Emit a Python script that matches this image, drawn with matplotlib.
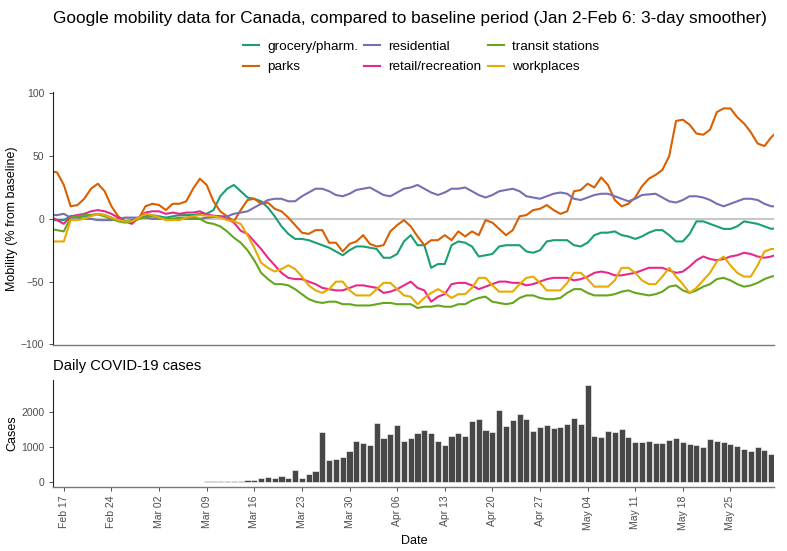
import numpy as np
import pandas as pd
import matplotlib
matplotlib.use("Agg")
import matplotlib.pyplot as plt
import matplotlib.dates as mdates

plt.rcParams['font.family'] = ['Liberation Sans', 'DejaVu Sans']

# mobility (% change from baseline), daily from Feb 15 to Jun 1 2020
mob_dates = pd.date_range("2020-02-15", periods=108, freq="D")

grocery = [-1, -1, -1, 2, 2, 2, 3, 4, 3, 1, -1, -2, -1, 1, 2, 3, 2, 1, 2, 3, 3, 3, 4,
           4, 7, 18, 24, 27, 22, 17, 16, 14, 9, 2, -6, -12, -16, -16, -17, -19, -21, -23, -26, -29,
           -25, -22, -22, -23, -24, -31, -31, -28, -18, -13, -21, -21, -39, -36, -36, -21, -18, -19, -22, -30, -29,
           -28, -22, -21, -21, -21, -26, -27, -25, -18, -17, -17, -17, -21, -22, -19, -13, -11, -11, -10, -13, -14, -16,
           -14, -11, -9, -9, -13, -18, -18, -12, -2, -2, -4, -6, -8, -8, -6, -2, -3, -4, -6, -8, -7]
parks = [38, 37, 27, 10, 11, 16, 24, 28, 22, 10, 2, -2, -3, 0, 10, 12, 11, 7, 12, 12, 14, 24, 32,
         27, 14, 6, 2, -2, 7, 15, 16, 12, 13, 8, 6, 1, -5, -11, -12, -9, -9, -19, -19, -26,
         -20, -18, -13, -20, -22, -21, -10, -5, -1, -6, -14, -21, -17, -17, -13, -17, -10, -14, -10, -13, -1,
         -3, -8, -13, -9, 2, 3, 7, 8, 11, 7, 4, 6, 22, 23, 28, 25, 33, 27, 15, 10, 12, 17,
         26, 32, 35, 39, 50, 78, 79, 75, 68, 67, 71, 85, 88, 88, 81, 76, 69, 60, 58, 65, 70]
residential = [3, 3, 4, 1, 1, 0, 0, -1, -1, -1, 0, 1, 1, 1, 1, 0, 0, 0, 0, 0, 0, 0, 0,
               1, 1.5, 2, 2, 4, 5, 6, 9, 12, 15, 16, 16, 14, 14, 18, 21, 24, 24, 22, 19, 18,
               20, 23, 24, 25, 22, 19, 18, 21, 24, 25, 27, 24, 21, 19, 21, 24, 24, 25, 22, 19, 17,
               19, 22, 23, 24, 22, 18, 17, 16, 18, 20, 21, 20, 16, 15, 17, 19, 20, 20, 18, 16, 14, 16,
               19, 19.5, 20, 17, 14, 13, 15, 18, 18, 17, 15, 12, 10, 12, 14, 16, 16, 15, 12, 10, 10]
retail = [2, -1, -4, 2, 3, 4, 6, 7, 6, 4, 1, -2, -4, 1, 5, 6, 6, 4, 5, 4, 5, 5, 6,
          3.5, 2.5, 2, 0, -3, -9.5, -12, -18, -24, -31, -37, -43, -47, -48, -48, -50, -52, -55, -56, -57, -57,
          -55, -53, -53, -54, -55, -59, -58, -56, -53, -50, -55, -57, -66, -62, -60, -52, -51, -51, -53, -56, -54,
          -52, -50, -50, -51, -51, -53, -52, -50, -48, -47, -47, -47, -49, -48, -46, -43, -42, -43, -45, -45, -44, -43,
          -41, -39, -39, -39, -41, -43, -42, -38, -33, -30, -32, -33, -32, -30, -29, -27, -28, -30, -31, -30, -28]
transit = [-8, -9, -10, 1, 2, 3, 3, 3.5, 2, 0, -2, -3, -2, 0, 1, 2, 1, 0, 0, 1, 1, 1, 0,
           -3, -4, -6, -10, -15, -19, -25, -33, -43, -48, -52, -52, -53, -56, -60, -64, -66, -67, -66, -66, -68,
           -68, -69, -69, -69, -68, -67, -67, -68, -68, -68, -71, -70, -70, -69, -70, -70, -68, -68, -65, -63, -62,
           -66, -67, -68, -67, -63, -61, -61, -63, -64, -64, -63, -59, -56, -56, -59, -61, -61, -61, -60, -58, -57, -59,
           -60, -61, -60, -58, -54, -53, -57, -59, -57, -54, -52, -48, -47, -49, -52, -54, -53, -51, -48, -46, -45]
workplaces = [-18, -18, -18, -1, -1, 0, 2, 4, 3, 1, -1, -2, -2, 1, 4, 3, 1, -1, -1, -1, 1, 2, 3,
              2.5, 2, 1, -1, -2, -4, -13, -23, -35, -39, -42, -40, -37, -40, -46, -53, -57, -59, -56, -50, -50,
              -57, -61, -61, -61, -56, -51, -51, -56, -61, -62, -68, -63, -59, -56, -59, -63, -60, -60, -55, -47, -47,
              -53, -58, -58, -58, -52, -47, -46, -51, -57, -57, -57, -51, -43, -43, -48, -54, -54, -54, -49, -39, -39, -43,
              -49, -52, -52, -46, -39, -46, -52, -59, -55, -49, -43, -34, -30, -37, -43, -46, -46, -37, -26, -24, -24]

series_names = ["grocery/pharm.", "parks", "residential", "retail/recreation",
                "transit stations", "workplaces"]
series_vals = [grocery, parks, residential, retail, transit, workplaces]
colors = ["#1B9E77", "#D95F02", "#7570B3", "#E7298A", "#66A61E", "#E6AB02"]

# daily cases, Feb 16 to May 31
case_dates = pd.date_range("2020-02-16", "2020-05-31", freq="D")
cases = [0] * 19 + [5, 5, 8, 15, 20, 15, 25,
         38, 38, 56, 56,
         103, 141, 113, 160, 122, 329, 122, 216, 310, 1418, 629, 648, 714, 873, 1164, 1108, 1052,
         1671, 1249, 1362, 1615, 1164, 1240, 1380, 1474, 1390, 1164, 1061, 1296, 1380, 1315, 1718, 1793,
         1465, 1427, 2047, 1578, 1765, 1925, 1784, 1456, 1549, 1606, 1531, 1568, 1643, 1822, 1653, 2751,
         1296, 1268, 1437, 1418, 1512, 1277, 1146, 1127, 1174, 1117, 1117, 1202, 1249, 1136, 1070, 1042,
         986, 1221, 1164, 1136, 1080, 1014, 939, 873, 995, 911, 779]

W, H = 787, 551
fig = plt.figure(figsize=(W / 100, H / 100), dpi=100)

def box(x0, y0, x1, y1):
    return [x0 / W, 1 - y1 / H, (x1 - x0) / W, (y1 - y0) / H]

ax1 = fig.add_axes(box(53.3, 91.7, 774.3, 345))
ax2 = fig.add_axes(box(53.3, 380, 774.3, 486.7))

xmin = mdates.date2num(pd.Timestamp("2020-02-15") + pd.Timedelta(hours=10.8))
xmax = mdates.date2num(pd.Timestamp("2020-05-31") + pd.Timedelta(hours=10.8))

ax1.axhline(0, color="#c8c8c8", lw=1.5, zorder=1)
for name, vals, c in zip(series_names, series_vals, colors):
    ax1.plot(mob_dates, vals, color=c, lw=1.5, label=name, zorder=2)
ax1.set_xlim(xmin, xmax)
ax1.set_ylim(-100.5, 101.3)
ax1.set_yticks([-100, -50, 0, 50, 100])
ax1.tick_params(axis="x", bottom=False, labelbottom=False)
ax1.set_ylabel("Mobility (% from baseline)", fontsize=9)
ax1.yaxis.set_label_coords(-0.049, 0.5)

ax2.bar(case_dates, cases, width=0.9, color="#474747", edgecolor="white", linewidth=0.4)
ax2.set_xlim(xmin, xmax)
ax2.set_ylim(-138, 2898)
ax2.set_yticks([0, 1000, 2000])
ticks = pd.date_range("2020-02-17", "2020-05-25", freq="7D")
ax2.set_xticks(mdates.date2num(ticks))
ax2.xaxis.set_major_formatter(mdates.DateFormatter("%b %d"))
ax2.tick_params(axis="x", labelrotation=90)
ax2.set_ylabel("Cases", fontsize=9)
ax2.yaxis.set_label_coords(-0.049, 0.5)
ax2.set_xlabel("Date", fontsize=9)
ax2.xaxis.set_label_coords(0.5, -0.45)

for ax in (ax1, ax2):
    ax.spines["top"].set_visible(False)
    ax.spines["right"].set_visible(False)
    ax.spines["left"].set_color("#222222")
    ax.spines["left"].set_linewidth(0.8)
    ax.spines["bottom"].set_color("#777777")
    ax.spines["bottom"].set_linewidth(1.0)
    ax.tick_params(labelsize=7.5, labelcolor="#4d4d4d", color="#333333", length=3, width=0.6)

fig.text(53.3 / W, 1 - 18 / H, "Google mobility data for Canada, compared to baseline period (Jan 2-Feb 6: 3-day smoother)",
         fontsize=12.4, va="center", ha="left")
fig.text(53.3 / W, 1 - 366 / H, "Daily COVID-19 cases", fontsize=10.6, va="center", ha="left")

fig.legend(*ax1.get_legend_handles_labels(), loc="center", bbox_to_anchor=(421 / W, 1 - 57 / H),
           ncol=3, frameon=False, fontsize=9.7, handlelength=1.2, handletextpad=0.6,
           columnspacing=0.45, labelspacing=0.6)

fig.savefig("out.png", dpi=100)
